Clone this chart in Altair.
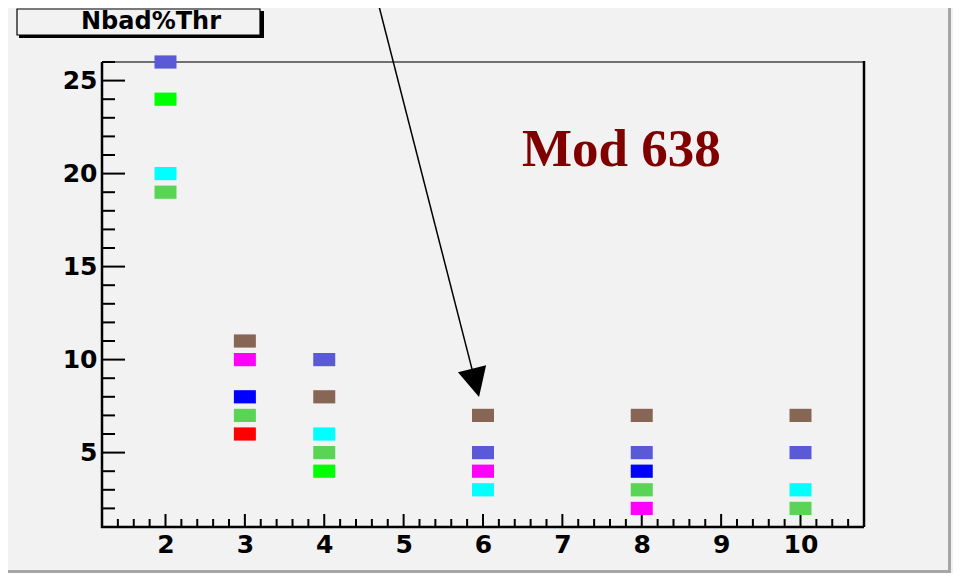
import altair as alt
import pandas as pd

# ---- data ----
x_vals = [2, 2, 2, 2,
          3, 3, 3, 3, 3,
          4, 4, 4, 4, 4,
          6, 6, 6, 6,
          8, 8, 8, 8, 8,
          10, 10, 10, 10]
y_vals = [26, 24, 20, 19,
          11, 10, 8, 7, 6,
          10, 8, 6, 5, 4,
          7, 5, 4, 3,
          7, 5, 4, 3, 2,
          7, 5, 3, 2]
series = ["violet", "green", "cyan", "ltgreen",
          "brown", "magenta", "blue", "ltgreen", "red",
          "violet", "brown", "cyan", "ltgreen", "green",
          "brown", "violet", "magenta", "cyan",
          "brown", "violet", "blue", "ltgreen", "magenta",
          "brown", "violet", "cyan", "ltgreen"]
series_names = ["violet", "green", "cyan", "ltgreen", "brown", "magenta", "blue", "red"]
palette = ["#5a59d8", "#00ff00", "#00ffff", "#59d454", "#876656", "#ff00ff", "#0000ff", "#ff0000"]

x_tick_labels = [2, 3, 4, 5, 6, 7, 8, 9, 10]
y_tick_labels = [5, 10, 15, 20, 25]
x_minor = [round(1.2 + 0.2 * i, 1) for i in range(1, 48) if abs(1.2 + 0.2 * i - round(1.2 + 0.2 * i)) > 1e-6]
y_minor = [v for v in range(2, 27) if v % 5 != 0]

title_text = "Nbad%Thr"
label_text = "Mod 638"
label_pos = {"x": 6.49, "y": 20.4}
arrow_x = [4.67, 5.906]
arrow_y = [29.33, 8.747]

# ---- layout ----
W, H = 762, 465
PAD_L, PAD_T, PAD_R, PAD_B = 94, 54, 89, 46

xscale = alt.Scale(domain=[1.2, 10.8], nice=False, zero=False)
yscale = alt.Scale(domain=[1, 26], nice=False, zero=False)
lab = dict(ticks=False, domain=False, grid=False, labelFont="DejaVu Sans",
           labelFontWeight="bold", labelFontSize=25, labelColor="black",
           labelPadding=5, title=None)
xaxis = alt.Axis(values=x_tick_labels, labelFlush=False, **lab)
yaxis = alt.Axis(values=y_tick_labels, **lab)

one = pd.DataFrame({"k": [0]})

# canvas border (right/bottom)
canvas_r = alt.Chart(one).mark_rule(color="#a6a6a6", strokeWidth=3).encode(
    x=alt.value(W + PAD_R - 3.5), y=alt.value(-PAD_T), y2=alt.value(H + PAD_B))
canvas_b = alt.Chart(one).mark_rule(color="#a6a6a6", strokeWidth=3).encode(
    x=alt.value(-PAD_L), x2=alt.value(W + PAD_R - 2), y=alt.value(H + PAD_B - 1.5))

# plot frame
f_left = alt.Chart(one).mark_rule(color="black", strokeWidth=2.5).encode(
    x=alt.value(0), y=alt.value(0), y2=alt.value(H + 1))
f_bottom = alt.Chart(one).mark_rule(color="black", strokeWidth=2.5).encode(
    x=alt.value(-1), x2=alt.value(W), y=alt.value(H))
f_top = alt.Chart(one).mark_rule(color="#444444", strokeWidth=1.5).encode(
    x=alt.value(0), x2=alt.value(W), y=alt.value(0))
f_right = alt.Chart(one).mark_rule(color="black", strokeWidth=2.5).encode(
    x=alt.value(W), y=alt.value(-1), y2=alt.value(H))

# ticks (drawn inside the frame)
xmaj = alt.Chart(pd.DataFrame({"v": x_tick_labels})).mark_rule(color="black", strokeWidth=2).encode(
    x=alt.X("v:Q", scale=xscale, axis=xaxis), y=alt.value(H), y2=alt.value(H - 13))
xmin = alt.Chart(pd.DataFrame({"v": x_minor})).mark_rule(color="black", strokeWidth=2).encode(
    x=alt.X("v:Q", scale=xscale, axis=xaxis), y=alt.value(H), y2=alt.value(H - 8))
ymaj = alt.Chart(pd.DataFrame({"v": y_tick_labels})).mark_rule(color="black", strokeWidth=2).encode(
    y=alt.Y("v:Q", scale=yscale, axis=yaxis), x=alt.value(0), x2=alt.value(23))
ymin = alt.Chart(pd.DataFrame({"v": y_minor})).mark_rule(color="black", strokeWidth=2).encode(
    y=alt.Y("v:Q", scale=yscale, axis=yaxis), x=alt.value(0), x2=alt.value(13))

# markers
pts = alt.Chart(pd.DataFrame({"x": x_vals, "y": y_vals, "s": series})).mark_point(
    shape="M-1,-0.6L1,-0.6L1,0.6L-1,0.6Z", filled=True, size=484, opacity=1, strokeWidth=0
).encode(
    x=alt.X("x:Q", scale=xscale, axis=xaxis),
    y=alt.Y("y:Q", scale=yscale, axis=yaxis),
    color=alt.Color("s:N", scale=alt.Scale(domain=series_names, range=palette), legend=None),
)

# arrow
arr_df = pd.DataFrame({"x1": [arrow_x[0]], "y1": [arrow_y[0]], "x2": [arrow_x[1]], "y2": [arrow_y[1]]})
arrow_line = alt.Chart(arr_df).mark_rule(color="black", strokeWidth=1.5).encode(
    x=alt.X("x1:Q", scale=xscale, axis=xaxis), x2="x2:Q",
    y=alt.Y("y1:Q", scale=yscale, axis=yaxis), y2="y2:Q")
arrow_head = alt.Chart(arr_df).mark_point(
    shape="M-1,-1L1,-1L0,1Z", filled=True, size=841, angle=346, color="black", opacity=1, strokeWidth=0
).encode(x=alt.X("x2:Q", scale=xscale, axis=xaxis), y=alt.Y("y2:Q", scale=yscale, axis=yaxis))

# "Mod 638"
mod_txt = alt.Chart(pd.DataFrame({"x": [label_pos["x"]], "y": [label_pos["y"]], "t": [label_text]})).mark_text(
    font="Liberation Serif", fontWeight="bold", fontSize=53, color="#800000",
    align="left", baseline="alphabetic"
).encode(x=alt.X("x:Q", scale=xscale, axis=xaxis), y=alt.Y("y:Q", scale=yscale, axis=yaxis), text="t:N")

# title box
shadow = alt.Chart(one).mark_rect(color="black").encode(
    x=alt.value(-83), x2=alt.value(162), y=alt.value(-51), y2=alt.value(-24))
box = alt.Chart(one).mark_rect(fill="#f2f2f2", stroke="black", strokeWidth=1.2).encode(
    x=alt.value(-85), x2=alt.value(158), y=alt.value(-53), y2=alt.value(-27))
ttl = alt.Chart(pd.DataFrame({"t": [title_text]})).mark_text(
    font="DejaVu Sans", fontWeight="bold", fontSize=24, color="black",
    align="center", baseline="alphabetic"
).encode(x=alt.value(49), y=alt.value(-33), text="t:N")

chart = alt.layer(
    canvas_r, canvas_b, f_top, f_right, xmaj, xmin, ymaj, ymin, f_left, f_bottom,
    pts, arrow_line, arrow_head, mod_txt, shadow, box, ttl
).properties(
    width=W, height=H, background="#f2f2f2",
    padding={"left": PAD_L, "top": PAD_T, "right": PAD_R, "bottom": PAD_B},
    autosize=alt.AutoSizeParams(type="none"),
).configure_view(stroke=None)

chart.save("out.html", embed_options={"renderer": "svg", "actions": False})
